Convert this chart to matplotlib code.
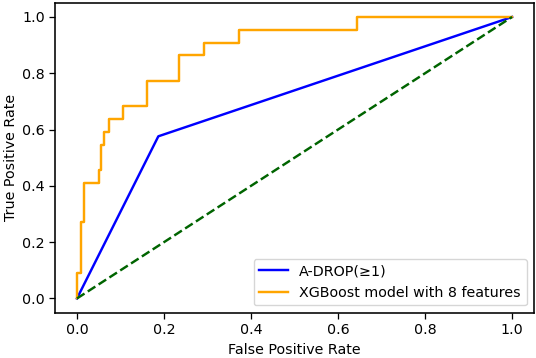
import numpy as np
import matplotlib
matplotlib.use("Agg")
import matplotlib.pyplot as plt

# ---------------- data ----------------
adrop_fpr = [0.0, 0.187, 1.0]
adrop_tpr = [0.0, 0.576, 1.0]

xgb_fpr = [0.0, 0.0, 0.010, 0.010, 0.017, 0.017, 0.050, 0.050, 0.056, 0.056,
           0.063, 0.063, 0.074, 0.074, 0.105, 0.105, 0.162, 0.162, 0.234, 0.234,
           0.291, 0.291, 0.372, 0.372, 0.644, 0.644, 1.0]
xgb_tpr = [0.0, 0.091, 0.091, 0.273, 0.273, 0.409, 0.409, 0.455, 0.455, 0.545,
           0.545, 0.591, 0.591, 0.636, 0.636, 0.682, 0.682, 0.773, 0.773, 0.864,
           0.864, 0.909, 0.909, 0.955, 0.955, 1.0, 1.0]

chance = [0.0, 1.0]

# slightly enlarged look of the reference
s = 1.15
plt.rcParams["axes.linewidth"] = 1.0 * s
plt.rcParams["xtick.major.width"] = 0.8 * s
plt.rcParams["ytick.major.width"] = 0.8 * s
plt.rcParams["xtick.major.size"] = 3.5 * s
plt.rcParams["ytick.major.size"] = 3.5 * s

# ---------------- plot ----------------
fig = plt.figure(figsize=(5.36, 3.58), dpi=100)
ax = fig.add_axes([0.103, 0.127, 0.893, 0.865])

ax.plot(adrop_fpr, adrop_tpr, color="blue", lw=1.75, label="A-DROP(≥1)")
ax.plot(xgb_fpr, xgb_tpr, color="orange", lw=1.75, label="XGBoost model with 8 features")
ax.plot(chance, chance, color="darkgreen", lw=1.75, linestyle="--")

ax.set_xlabel("False Positive Rate", fontsize=10.3, labelpad=4)
ax.set_ylabel("True Positive Rate", fontsize=10.3, labelpad=3)
ax.tick_params(labelsize=10.3)
ax.legend(loc="lower right", fontsize=10.3)

fig.savefig("out.png", dpi=100)
